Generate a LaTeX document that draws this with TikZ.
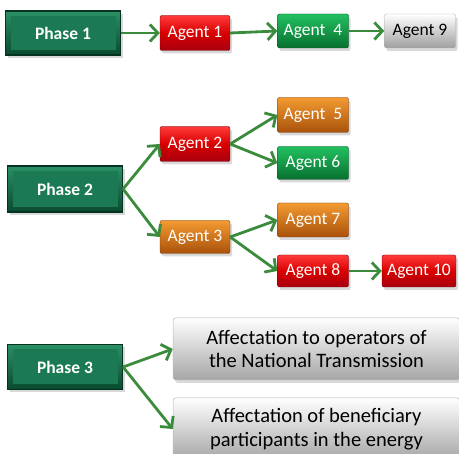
\documentclass[tikz,border=0pt]{standalone}
\usepackage{fontspec}
\setmainfont{Carlito}
\usetikzlibrary{arrows.meta,shadows,calc}
\definecolor{arrowgreen}{HTML}{3A8C3C}
\definecolor{redT}{HTML}{FF3A3A}
\definecolor{redB}{HTML}{A80010}
\definecolor{grnT}{HTML}{22C060}
\definecolor{grnB}{HTML}{08702F}
\definecolor{orgT}{HTML}{F39A32}
\definecolor{orgB}{HTML}{A9520A}
\definecolor{phT}{HTML}{2A9066}
\definecolor{phB}{HTML}{0A4A2F}
\definecolor{phD}{HTML}{053222}
\definecolor{phF}{HTML}{1B7A53}
\begin{document}
\begin{tikzpicture}[x=1pt,y=-1pt,
  shad/.style={drop shadow={opacity=0.3, shadow xshift=2pt, shadow yshift=-3pt}},
  agent/.style={rectangle, rounded corners=2pt, minimum width=71pt, minimum height=34pt,
     inner sep=0pt, font=\fontsize{17.5}{20}\selectfont, text=white, shad},
  redbox/.style={agent, top color=redT, bottom color=redB, middle color=red!85!black, draw=redB!70!black, line width=0.4pt},
  grnbox/.style={agent, top color=grnT, bottom color=grnB, draw=grnB!70!black, line width=0.4pt},
  orgbox/.style={agent, top color=orgT, bottom color=orgB, draw=orgB!70!black, line width=0.4pt},
  whtbox/.style={agent, top color=white, middle color=white, bottom color=gray!75, text=black, draw=gray!60, line width=0.4pt},
  phase/.style={rectangle, minimum width=115pt, minimum height=44pt, inner sep=0pt,
     top color=phT, bottom color=phB, draw=phD, line width=1.2pt,
     font=\bfseries\fontsize{17.5}{20}\selectfont, text=white, shad,
     path picture={\fill[phF] ($(path picture bounding box.south west)+(5pt,5pt)$) rectangle ($(path picture bounding box.north east)+(-5pt,-5pt)$);}},
  bigbox/.style={rectangle, rounded corners=3pt, minimum width=287pt, minimum height=62pt,
     inner sep=0pt, align=center, top color=white, middle color=white, bottom color=gray!70,
     draw=gray!55, line width=0.5pt, font=\fontsize{20.5}{23.5}\selectfont, text=black, shad},
  arr/.style={draw=arrowgreen, line width=2.8pt, -{Straight Barb[length=8pt,width=17pt]}}
]
\useasboundingbox (0,0) rectangle (459,454);
% row 1
\node[phase] (p1) at (63,33) {Phase 1};
\node[redbox, minimum width=70pt, minimum height=35pt] (a1) at (195,33) {Agent 1};
\node[grnbox] (a4) at (313,31) {Agent\ \ 4};
\node[whtbox] (a9) at (420,31) {Agent 9};
% row 2
\node[phase, minimum height=46pt] (p2) at (65,189) {Phase 2};
\node[redbox, minimum width=70pt, minimum height=35pt] (a2) at (195,144) {Agent 2};
\node[orgbox, minimum width=70pt, minimum height=33pt] (a3) at (195,237) {Agent 3};
\node[orgbox, minimum height=35pt] (a5) at (313,115) {Agent\ \ 5};
\node[grnbox, minimum height=33pt] (a6) at (313,163) {Agent 6};
\node[orgbox] (a7) at (313,220) {Agent 7};
\node[redbox, minimum height=32pt] (a8) at (313,271) {Agent 8};
\node[redbox, minimum width=74pt, minimum height=32pt] (a10) at (419,271) {Agent 10};
% row 3
\node[phase, minimum height=45pt] (p3) at (65,367) {Phase 3};
\node[bigbox] (bA) at (316.5,349) {Affectation to operators of\\the National Transmission};
\node[bigbox] (bB) at (316.5,429) {Affectation of beneficiary\\participants in the energy};
% arrows
\draw[arr] (p1.east) -- (a1.west);
\draw[arr] (a1.east) -- (a4.west);
\draw[arr] (a4.east) -- (a9.west);
\draw[arr] (p2.east) -- (a2.west);
\draw[arr] (p2.east) -- (a3.west);
\draw[arr] (a2.east) -- (a5.west);
\draw[arr] (a2.east) -- (a6.west);
\draw[arr] (a3.east) -- (a7.west);
\draw[arr] (a3.east) -- (a8.west);
\draw[arr] (a8.east) -- (a10.west);
\draw[arr] (p3.east) -- (bA.west);
\draw[arr] (p3.east) -- (bB.west);
\end{tikzpicture}
\end{document}
